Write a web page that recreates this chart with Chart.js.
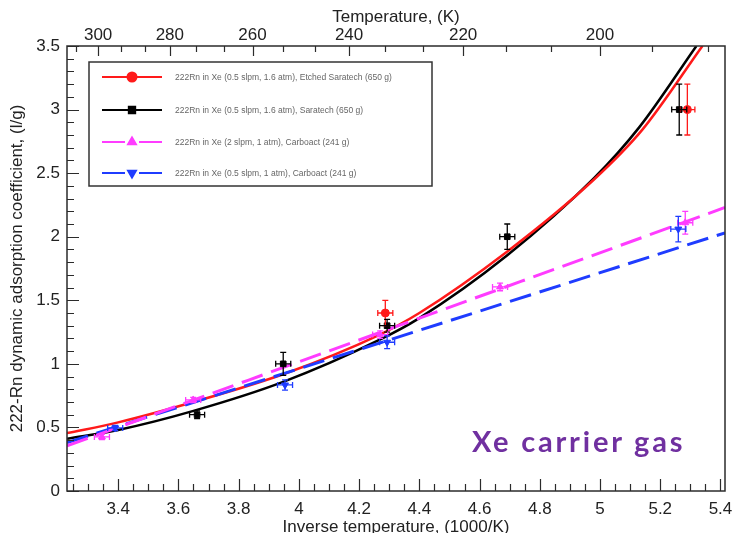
<!DOCTYPE html>
<html>
<head>
<meta charset="utf-8">
<script src="https://cdn.jsdelivr.net/npm/chart.js@4.4.1/dist/chart.umd.min.js"></script>
<style>
  body { margin: 0; background: #fff; }
  #wrap { position: relative; width: 733px; height: 533px; overflow: hidden; }
  #note { position: absolute; left: 472px; top: 426px; font: bold 29px Lato, sans-serif; line-height: 29px; letter-spacing: 2.8px; color: #7030A0; white-space: nowrap; }
</style>
</head>
<body>
<div id="wrap">
  <canvas id="chart" width="733" height="533"></canvas>
  <div id="note">Xe carrier gas</div>
</div>
<script>
// axis ticks
const xTickValues = [3.4, 3.6, 3.8, 4, 4.2, 4.4, 4.6, 4.8, 5, 5.2, 5.4];
const yTickValues = [0, 0.5, 1, 1.5, 2, 2.5, 3, 3.5];
const tempLabels = [300, 280, 260, 240, 220, 200];

// measured points (x = 1000/T, y = l/g)
const etchedX = [4.287, 5.29];
const etchedY = [1.40, 3.00];
const etchedYErr = [0.10, 0.20];

const saratechX = [3.662, 3.948, 4.293, 4.692, 5.263];
const saratechY = [0.60, 1.00, 1.30, 2.00, 3.00];
const saratechYErr = [0.03, 0.09, 0.05, 0.10, 0.20];

const carbo2X = [3.346, 3.649, 4.27, 4.668, 5.283];
const carbo2Y = [0.425, 0.716, 1.23, 1.605, 2.11];
const carbo2YErr = [0.02, 0.02, 0.03, 0.03, 0.09];

const carbo05X = [3.39, 3.954, 4.293, 5.26];
const carbo05Y = [0.496, 0.834, 1.17, 2.06];
const carbo05YErr = [0.02, 0.04, 0.05, 0.10];

const xErr = 0.025;

// fitted curves
const etchedFitX = [3.23, 3.40, 3.65, 3.95, 4.26, 4.40, 4.69, 4.98, 5.14, 5.34];
const etchedFitY = [0.455, 0.54, 0.70, 0.92, 1.22, 1.40, 1.88, 2.45, 2.84, 3.5];
const saratechFitX = [3.23, 3.40, 3.65, 3.95, 4.26, 4.40, 4.69, 4.98, 5.13, 5.32];
const saratechFitY = [0.41, 0.48, 0.63, 0.86, 1.18, 1.36, 1.85, 2.46, 2.86, 3.5];
const carbo2FitX = [3.23, 5.415];
const carbo2FitY = [0.355, 2.23];
const carbo05FitX = [3.23, 5.415];
const carbo05FitY = [0.38, 2.03];

const legendLabels = [
  "222Rn in Xe (0.5 slpm, 1.6 atm), Etched Saratech (650 g)",
  "222Rn in Xe (0.5 slpm, 1.6 atm), Saratech (650 g)",
  "222Rn in Xe (2 slpm, 1 atm), Carboact (241 g)",
  "222Rn in Xe (0.5 slpm, 1 atm), Carboact (241 g)"
];

const RED = '#ff1a1a', BLACK = '#000000', MAGENTA = '#ff3cff', BLUE = '#1f3cff';
const axisFont = { family: "'Liberation Sans', Arial, sans-serif", size: 17 };

const pts = (xs, ys, es) => xs.map((x, i) => ({ x: x, y: ys[i], yErr: es ? es[i] : 0 }));

const pointSets = [
  { label: 'etched', data: pts(etchedX, etchedY, etchedYErr), color: RED, style: 'circle', rot: 0 },
  { label: 'saratech', data: pts(saratechX, saratechY, saratechYErr), color: BLACK, style: 'rect', rot: 0 },
  { label: 'carbo2', data: pts(carbo2X, carbo2Y, carbo2YErr), color: MAGENTA, style: 'triangle', rot: 0 },
  { label: 'carbo05', data: pts(carbo05X, carbo05Y, carbo05YErr), color: BLUE, style: 'triangle', rot: 180 }
];

const datasets = [];
pointSets.forEach(p => {
  datasets.push({
    label: p.label, data: p.data, showLine: false, errorBars: true,
    pointStyle: p.style, pointRotation: p.rot, pointRadius: 4,
    backgroundColor: p.color, borderColor: p.color, borderWidth: 1
  });
});
const curve = (label, xs, ys, color, dash, width) => ({
  label: label, data: pts(xs, ys), showLine: true, pointRadius: 0,
  borderColor: color, borderWidth: width, borderDash: dash,
  cubicInterpolationMode: 'monotone', fill: false
});
datasets.push(curve('carbo2 fit', carbo2FitX, carbo2FitY, MAGENTA, [22, 9], 3));
datasets.push(curve('carbo05 fit', carbo05FitX, carbo05FitY, BLUE, [22, 9], 3));
datasets.push(curve('etched fit', etchedFitX, etchedFitY, RED, [], 2.5));
datasets.push(curve('saratech fit', saratechFitX, saratechFitY, BLACK, [], 2.5));

// error bars for the measured points
const errorBars = {
  id: 'errorBars',
  afterDatasetsDraw(chart) {
    const { ctx, scales } = chart;
    ctx.save();
    ctx.lineWidth = 1.3;
    chart.data.datasets.forEach(ds => {
      if (!ds.errorBars) return;
      ctx.strokeStyle = ds.borderColor;
      ds.data.forEach(p => {
        const px = scales.x.getPixelForValue(p.x);
        const py = scales.y.getPixelForValue(p.y);
        const x0 = scales.x.getPixelForValue(p.x - xErr);
        const x1 = scales.x.getPixelForValue(p.x + xErr);
        const y0 = scales.y.getPixelForValue(p.y - p.yErr);
        const y1 = scales.y.getPixelForValue(p.y + p.yErr);
        ctx.beginPath();
        ctx.moveTo(x0, py); ctx.lineTo(x1, py);
        ctx.moveTo(x0, py - 3); ctx.lineTo(x0, py + 3);
        ctx.moveTo(x1, py - 3); ctx.lineTo(x1, py + 3);
        ctx.moveTo(px, y0); ctx.lineTo(px, y1);
        ctx.moveTo(px - 3, y0); ctx.lineTo(px + 3, y0);
        ctx.moveTo(px - 3, y1); ctx.lineTo(px + 3, y1);
        ctx.stroke();
      });
    });
    ctx.restore();
  }
};

// frame with inward tick marks on bottom, left and top
const frameTicks = {
  id: 'frameTicks',
  afterDatasetsDraw(chart) {
    const { ctx, chartArea: a, scales } = chart;
    ctx.save();
    ctx.strokeStyle = '#2b2b2b';
    ctx.lineWidth = 1.2;
    ctx.beginPath();
    for (let k = 65; k <= 108; k++) {
      const px = Math.round(scales.x.getPixelForValue(k * 0.05)) + 0.5;
      const len = k % 4 === 0 ? 12 : 7;
      ctx.moveTo(px, a.bottom); ctx.lineTo(px, a.bottom - len);
    }
    for (let k = 0; k <= 35; k++) {
      const py = Math.round(scales.y.getPixelForValue(k * 0.1)) + 0.5;
      const len = k % 5 === 0 ? 12 : 7;
      ctx.moveTo(a.left, py); ctx.lineTo(a.left + len, py);
    }
    for (let k = -1; k <= 17; k++) {
      const t = 300 - k * 20 / 3;
      const px = Math.round(scales.x2.getPixelForValue(1000 / t)) + 0.5;
      const len = k % 3 === 0 ? 10 : 6;
      ctx.moveTo(px, a.top); ctx.lineTo(px, a.top + len);
    }
    ctx.stroke();
    ctx.lineWidth = 1.5;
    ctx.strokeRect(a.left, a.top, a.right - a.left, a.bottom - a.top);
    ctx.restore();
  }
};

// boxed legend in the upper left of the plot
const boxLegend = {
  id: 'boxLegend',
  afterDraw(chart) {
    const ctx = chart.ctx;
    const rows = [77, 110, 142, 173];
    ctx.save();
    ctx.fillStyle = '#fff';
    ctx.fillRect(89, 62, 343, 124);
    ctx.strokeStyle = '#333';
    ctx.lineWidth = 1.5;
    ctx.strokeRect(89, 62, 343, 124);
    pointSets.forEach((p, i) => {
      const y = rows[i];
      ctx.strokeStyle = p.color;
      ctx.fillStyle = p.color;
      ctx.lineWidth = 2;
      ctx.beginPath();
      if (p.style === 'triangle') {
        ctx.moveTo(102, y); ctx.lineTo(125, y);
        ctx.moveTo(139, y); ctx.lineTo(162, y);
      } else {
        ctx.moveTo(102, y); ctx.lineTo(162, y);
      }
      ctx.stroke();
      Chart.helpers.drawPoint(ctx, { pointStyle: p.style, rotation: p.rot, radius: 4.5, borderWidth: 1 }, 132, y);
      ctx.fill();
      ctx.fillStyle = '#666';
      ctx.font = "8.5px 'Liberation Sans', Arial, sans-serif";
      ctx.textBaseline = 'middle';
      ctx.fillText(legendLabels[i], 175, y + 0.5);
    });
    ctx.restore();
  }
};

const noTicks = { display: false, drawTicks: false, tickLength: 0 };

const ctx = document.getElementById("chart").getContext("2d");
const chart = new Chart(ctx, {
  type: 'scatter',
  data: { datasets: datasets },
  options: {
    responsive: false,
    animation: false,
    layout: { padding: { left: 0, right: 8, top: 0, bottom: 0 } },
    plugins: { legend: { display: false }, tooltip: { enabled: false } },
    scales: {
      x: {
        type: 'linear', position: 'bottom', min: 3.23, max: 5.415,
        grid: noTicks, border: { display: false },
        afterBuildTicks: s => { s.ticks = xTickValues.map(v => ({ value: v })); },
        afterFit: s => { s.height = 42; s.paddingLeft = 0; s.paddingRight = 0; },
        ticks: { font: axisFont, color: '#222', padding: 8, maxRotation: 0, autoSkip: false,
                 callback: v => String(+v.toFixed(1)) },
        title: { display: true, text: 'Inverse temperature, (1000/K)', font: { ...axisFont, lineHeight: 1 },
                 color: '#222', padding: { top: 0, bottom: -3 } }
      },
      x2: {
        type: 'linear', position: 'top', min: 3.23, max: 5.415,
        grid: noTicks, border: { display: false },
        afterBuildTicks: s => { s.ticks = tempLabels.map(t => ({ value: 1000 / t })); },
        afterFit: s => { s.height = 46; s.paddingLeft = 0; s.paddingRight = 0; },
        ticks: { font: axisFont, color: '#222', padding: 0, maxRotation: 0, autoSkip: false,
                 callback: v => String(Math.round(1000 / v)) },
        title: { display: true, text: 'Temperature, (K)', font: axisFont, color: '#222',
                 padding: { top: 7, bottom: 0 } }
      },
      y: {
        type: 'linear', position: 'left', min: 0, max: 3.5,
        grid: noTicks, border: { display: false },
        afterBuildTicks: s => { s.ticks = yTickValues.map(v => ({ value: v })); },
        afterFit: s => { s.width = 67; s.paddingTop = 0; s.paddingBottom = 0; },
        ticks: { font: axisFont, color: '#222', padding: 7, autoSkip: false, callback: v => String(v) },
        title: { display: true, text: '222-Rn dynamic adsorption coefficient, (l/g)', font: axisFont,
                 color: '#222', padding: { top: 7, bottom: 0 } }
      }
    }
  },
  plugins: [errorBars, frameTicks, boxLegend]
});
</script>
</body>
</html>
